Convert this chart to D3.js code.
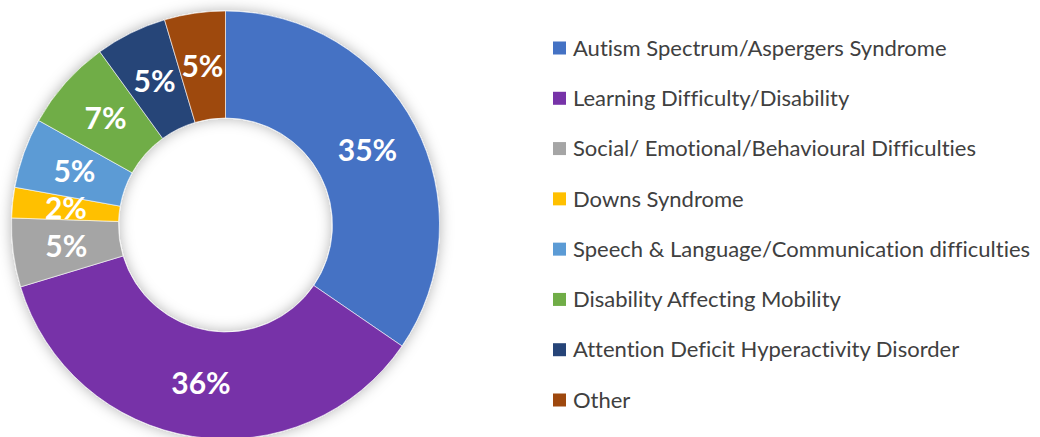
<!DOCTYPE html>
<html>
<head>
<meta charset="utf-8">
<script src="https://cdn.jsdelivr.net/npm/d3@7"></script>
<style>
  html, body { margin: 0; padding: 0; background: #fff; }
  svg { display: block; }
</style>
</head>
<body>
<div id="chart"></div>
<script>
// data (share of pupils, %)
const categories = [
  'Autism Spectrum/Aspergers Syndrome',
  'Learning Difficulty/Disability',
  'Social/ Emotional/Behavioural Difficulties',
  'Downs Syndrome',
  'Speech & Language/Communication difficulties',
  'Disability Affecting Mobility',
  'Attention Deficit Hyperactivity Disorder',
  'Other',
];
const values = [34.6, 35.8, 5.2, 2.3, 5.3, 6.9, 5.4, 4.6];
const colors = ['#4472c4', '#7733a8', '#a5a5a5', '#ffc000', '#5b9bd5', '#70ad47', '#264478', '#9e480e'];

{
  const width = 1040;
  const height = 437;
  const cx = 225.5;
  const cy = 225;
  const outerR = 214;
  const innerR = 107;

  const data = categories.map((name, i) => ({ name, value: values[i] }));
  const total = d3.sum(values);

  const colorScale = d3.scaleOrdinal()
    .domain(categories)
    .range(colors);

  const svg = d3.select('#chart')
    .append('svg')
    .attr('width', width)
    .attr('height', height);

  // soft shadow like the office chart
  const filter = svg.append('defs')
    .append('filter')
    .attr('id', 'shadow')
    .attr('x', '-20%')
    .attr('y', '-20%')
    .attr('width', '140%')
    .attr('height', '140%');
  filter.append('feDropShadow')
    .attr('dx', 0)
    .attr('dy', 0)
    .attr('stdDeviation', 7)
    .attr('flood-color', '#000')
    .attr('flood-opacity', 0.3);

  const pie = d3.pie()
    .sort(null)
    .value(d => d.value);

  const arc = d3.arc()
    .innerRadius(innerR)
    .outerRadius(outerR);

  const arcs = pie(data);

  const donut = svg.append('g')
    .attr('transform', `translate(${cx}, ${cy})`);

  donut.append('g')
    .attr('filter', 'url(#shadow)')
    .selectAll('path')
    .data(arcs)
    .enter()
    .append('path')
    .attr('d', arc)
    .attr('fill', d => colorScale(d.data.name))
    .attr('stroke', '#fff')
    .attr('stroke-width', 0.6);

  donut.append('g')
    .selectAll('text')
    .data(arcs)
    .enter()
    .append('text')
    .attr('transform', d => `translate(${arc.centroid(d)})`)
    .attr('text-anchor', 'middle')
    .attr('dy', '0.36em')
    .style('font-family', 'Lato, "Open Sans", sans-serif')
    .style('font-weight', 700)
    .style('font-size', '30px')
    .style('fill', '#fff')
    .text(d => `${Math.round((d.data.value / total) * 100)}%`);

  // legend
  const legendY = d3.scalePoint()
    .domain(categories)
    .range([48, 400]);

  const legend = svg.append('g')
    .attr('class', 'legend')
    .selectAll('g')
    .data(categories)
    .enter()
    .append('g')
    .attr('transform', d => `translate(553, ${legendY(d)})`);

  legend.append('rect')
    .attr('x', 0)
    .attr('y', -6.5)
    .attr('width', 13)
    .attr('height', 13)
    .attr('fill', colorScale);

  legend.append('text')
    .attr('x', 20)
    .attr('y', 0)
    .attr('dy', '0.35em')
    .style('font-family', 'Lato, "Open Sans", sans-serif')
    .style('font-size', '22px')
    .style('font-variant-ligatures', 'none')
    .style('fill', '#404040')
    .text(d => d);
}
</script>
</body>
</html>
